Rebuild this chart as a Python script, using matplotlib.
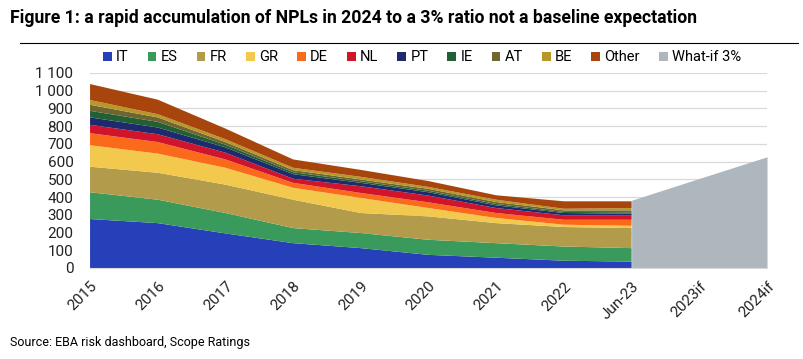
# -*- coding: utf-8 -*-
# Encours de NPL par pays (Mds EUR) + scénario what-if 3%
import numpy as np
import matplotlib.pyplot as plt
from matplotlib.ticker import FuncFormatter

plt.rcParams['font.family'] = ['Roboto', 'DejaVu Sans']

# données
periodes = ['2015', '2016', '2017', '2018', '2019', '2020', '2021', '2022',
            'Jun-23', '2023if', '2024if']
pays = ['IT', 'ES', 'FR', 'GR', 'DE', 'NL', 'PT', 'IE', 'AT', 'BE', 'Other']

IT = [276, 253, 195, 140, 112, 74, 58, 41, 36]
ES = [151, 132, 115, 85, 85, 85, 82, 80, 76]
FR = [144, 152, 160, 160, 113, 132, 113, 110, 113]
GR = [121, 108, 95, 67, 85, 47, 29, 13, 13]
DE = [68, 65, 47, 28, 28, 32, 28, 28, 34]
NL = [47, 44, 38, 23, 38, 38, 28, 25, 25]
PT = [42, 38, 30, 26, 19, 19, 15, 13, 9]
IE = [37, 32, 15, 11, 9, 8, 8, 6, 8]
AT = [34, 25, 15, 12, 10, 11, 11, 9, 11]
BE = [27, 18, 16, 13, 15, 11, 13, 9, 13]
Other = [90, 82, 60, 47, 39, 33, 25, 42, 38]

whatif = [382, 505, 627]   # Jun-23, 2023if, 2024if

couleurs = ['#2540b8', '#3a9a5b', '#b39b4c', '#f2c94c', '#fb6a1b', '#d0142c',
            '#1f2a6e', '#215f35', '#6f6530', '#b8972a', '#a8450c']
gris = '#aeb7bd'

x = np.arange(len(periodes))

fig = plt.figure(figsize=(8.04, 3.59), dpi=100)
ax = fig.add_axes([0.112, 0.2535, 0.842, 0.5435])

# zone grise what-if (derrière)
ax.fill_between(x[8:], 0, whatif, color=gris, lw=0, label='What-if 3%')

# aires empilées par pays
series = [IT, ES, FR, GR, DE, NL, PT, IE, AT, BE, Other]
ax.stackplot(x[:9], series, colors=couleurs, labels=pays, lw=0)

ax.set_xlim(0, 10)
ax.set_ylim(0, 1100)
ax.set_yticks(np.arange(0, 1101, 100))
ax.yaxis.set_major_formatter(FuncFormatter(lambda v, p: f'{int(v):,}'.replace(',', ' ')))
ax.grid(axis='y', color='#d9d9d9', lw=0.9)
ax.set_axisbelow(True)

ax.set_xticks(x)
ax.set_xticklabels(periodes, rotation=45, ha='right', va='top', rotation_mode='anchor')
ax.tick_params(axis='both', length=0, labelsize=11, colors='#222222')
ax.tick_params(axis='x', pad=8)
ax.tick_params(axis='y', pad=12)

for s in ['top', 'right', 'left']:
    ax.spines[s].set_visible(False)
ax.spines['bottom'].set_color('#d9d9d9')

# légende sur une ligne
h, l = ax.get_legend_handles_labels()
ordre = list(range(1, len(h))) + [0]
fig.legend([h[i] for i in ordre], [l[i] for i in ordre], loc='center',
           bbox_to_anchor=(0.525, 0.84), ncol=12, frameon=False, fontsize=10.5,
           handlelength=0.6, handleheight=0.6, handletextpad=0.3, columnspacing=1.3)

# titre, trait et source
fig.text(0.013, 0.95, 'Figure 1: a rapid accumulation of NPLs in 2024 to a 3% ratio not a baseline expectation',
         fontsize=12.7, fontweight='bold', va='center')
fig.add_artist(plt.Line2D([0.025, 0.992], [0.88, 0.88], color='black', lw=0.8))
fig.text(0.012, 0.045, 'Source: EBA risk dashboard, Scope Ratings', fontsize=9, va='center')

plt.savefig('out.png', dpi=100)
